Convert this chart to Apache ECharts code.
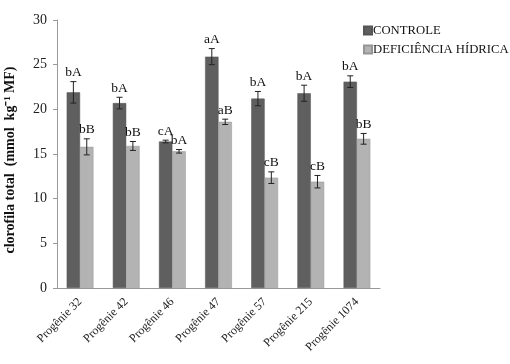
<!DOCTYPE html>
<html>
<head>
<meta charset="utf-8">
<script src="https://cdn.jsdelivr.net/npm/echarts@6/dist/echarts.min.js"></script>
<style>
  html, body { margin: 0; padding: 0; background: #fff; }
  #chart { width: 510px; height: 364px; }
</style>
</head>
<body>
<div id="chart"></div>
<script>
// Total chlorophyll per progeny, control vs. water deficit
const categories = ['Progênie 32', 'Progênie 42', 'Progênie 46', 'Progênie 47', 'Progênie 57', 'Progênie 215', 'Progênie 1074'];
const seriesNames = ['CONTROLE', 'DEFICIÊNCIA HÍDRICA'];

const controle = [21.9, 20.7, 16.4, 25.9, 21.2, 21.8, 23.1];
const controleErr = [1.2, 0.65, 0.15, 0.9, 0.8, 0.9, 0.65];
const controleLetters = ['bA', 'bA', 'cA', 'aA', 'bA', 'bA', 'bA'];

const deficiencia = [15.8, 15.9, 15.3, 18.6, 12.35, 11.9, 16.7];
const deficienciaErr = [0.9, 0.5, 0.2, 0.3, 0.65, 0.7, 0.6];
const deficienciaLetters = ['bB', 'bB', 'bA', 'aB', 'cB', 'cB', 'bB'];

const yTicks = { min: 0, max: 30, interval: 5 };

const colors = ['#5f5f5f', '#b3b3b3'];
const serif = 'Liberation Serif';
const CAT_GAP = 0.42;

// Error bar + significance letter for one series; side -1 = left bar, +1 = right bar
function errorSeries(values, errs, letters, side) {
  return {
    type: 'custom',
    z: 5,
    data: values.map((v, i) => [i, v, errs[i], letters[i]]),
    renderItem: function (params, api) {
      const i = api.value(0);
      const v = api.value(1);
      const e = api.value(2);
      const band = api.size([1, 0])[0];
      const barW = band * (1 - CAT_GAP) / 2;
      const c = api.coord([i, v]);
      const x = c[0] + side * barW / 2;
      const yTop = api.coord([i, v + e])[1];
      const yBot = api.coord([i, v - e])[1];
      const cap = 3;
      const style = { stroke: '#222', lineWidth: 1 };
      return {
        type: 'group',
        children: [
          { type: 'line', shape: { x1: x, y1: yTop, x2: x, y2: yBot }, style: style },
          { type: 'line', shape: { x1: x - cap, y1: yTop, x2: x + cap, y2: yTop }, style: style },
          { type: 'line', shape: { x1: x - cap, y1: yBot, x2: x + cap, y2: yBot }, style: style },
          {
            type: 'text',
            style: {
              x: x, y: yTop - 2,
              text: api.value(3),
              align: 'center', verticalAlign: 'bottom',
              font: '13.5px "' + serif + '"', fill: '#111'
            }
          }
        ]
      };
    }
  };
}

const chart = echarts.init(document.getElementById('chart'), null, { renderer: 'canvas' });
chart.setOption({
  animation: false,
  backgroundColor: '#fff',
  grid: { left: 57, right: 130, top: 20, bottom: 76, outerBoundsMode: 'none', containLabel: false },
  legend: {
    data: seriesNames,
    orient: 'vertical',
    left: 358,
    top: 19,
    icon: 'rect',
    itemWidth: 8,
    itemHeight: 8,
    itemGap: 6,
    textStyle: { fontFamily: serif, fontSize: 12.7, color: '#111', padding: [0, 0, 0, -4] }
  },
  xAxis: {
    type: 'category',
    data: categories,
    axisLine: { lineStyle: { color: '#999', width: 1 } },
    axisTick: { inside: true, length: 3, lineStyle: { color: '#999' } },
    axisLabel: {
      rotate: 45, margin: 12, interval: 0,
      fontFamily: serif, fontSize: 12, color: '#222'
    }
  },
  yAxis: {
    type: 'value',
    min: yTicks.min, max: yTicks.max, interval: yTicks.interval,
    name: 'clorofila total  (mmol  kg⁻¹ MF)',
    nameLocation: 'middle',
    nameRotate: 90,
    nameGap: 40,
    nameTextStyle: {
      fontFamily: serif, fontSize: 14, fontWeight: 'bold', color: '#111',
      padding: [0, 12, 0, 0]
    },
    axisLine: { show: true, lineStyle: { color: '#999', width: 1 } },
    axisTick: { show: true, length: 4, lineStyle: { color: '#999' } },
    axisLabel: { fontFamily: serif, fontSize: 14, color: '#222', margin: 10 },
    splitLine: { show: false }
  },
  series: [
    {
      name: seriesNames[0], type: 'bar', data: controle,
      barGap: '0%', barCategoryGap: (CAT_GAP * 100) + '%',
      itemStyle: { color: colors[0], borderColor: '#555', borderWidth: 0.5 }
    },
    {
      name: seriesNames[1], type: 'bar', data: deficiencia,
      barGap: '0%', barCategoryGap: (CAT_GAP * 100) + '%',
      itemStyle: { color: colors[1], borderColor: '#959595', borderWidth: 0.5 }
    },
    errorSeries(controle, controleErr, controleLetters, -1),
    errorSeries(deficiencia, deficienciaErr, deficienciaLetters, 1)
  ]
});
</script>
</body>
</html>
